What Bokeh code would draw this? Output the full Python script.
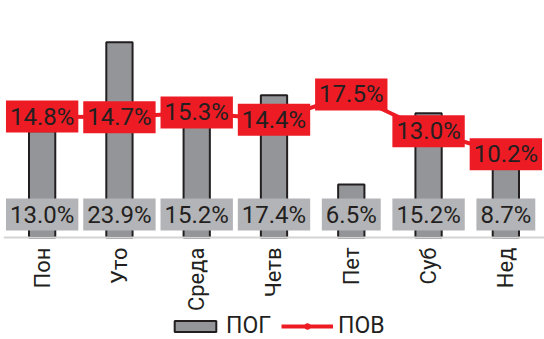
import math
from bokeh.plotting import figure
from bokeh.models import ColumnDataSource, Legend, LegendItem, Range1d
from bokeh.core.properties import value
from bokeh.embed import file_html
from bokeh.resources import INLINE

# Days of the week and the two weekly series (percent)
days = ["Пон", "Уто", "Среда", "Четв", "Пет", "Суб", "Нед"]
pog = [13.0, 23.9, 15.2, 17.4, 6.5, 15.2, 8.7]
pov = [14.8, 14.7, 15.3, 14.4, 17.5, 13.0, 10.2]

FONT = "Roboto"
TEXT = "#231f20"
RED = "#ed1c24"

src = ColumnDataSource(dict(
    day=days,
    pog=pog,
    pov=pov,
    pog_txt=[f"{v:.1f}%" for v in pog],
    pov_txt=[f"{v:.1f}%" for v in pov],
    base=[2.8] * len(days),
))

# the frame fills the canvas; the space under zero holds day names and legend
p = figure(x_range=days, y_range=Range1d(-12.48, 29), width=544, height=339,
           output_backend="svg", toolbar_location=None,
           min_border_left=3, min_border_right=0, min_border_top=0,
           min_border_bottom=0)
p.outline_line_color = None
p.xgrid.visible = False
p.ygrid.visible = False
p.yaxis.visible = False
p.x_range.range_padding = 0

bars = p.vbar(x="day", top="pog", width=0.34, source=src,
              fill_color="#939598", line_color=TEXT, line_width=2)
line = p.line(x="day", y="pov", source=src, line_color=RED, line_width=4)
dots = p.scatter(x="day", y="pov", source=src, size=12,
                 fill_color=RED, line_color=RED)

xa = p.xaxis[0]
xa.fixed_location = 0
xa.axis_line_color = "#d4d4d4"
xa.axis_line_width = 2
xa.major_tick_line_color = None
xa.major_tick_out = 0
xa.major_tick_in = 0
xa.minor_tick_line_color = None
xa.major_label_orientation = math.pi / 2
xa.major_label_standoff = 10
xa.major_label_text_font = FONT
xa.major_label_text_font_size = "22px"
xa.major_label_text_color = TEXT

# value boxes: grey for ПОГ near the base, red for ПОВ on the line
p.text(x="day", y="base", text="pog_txt", source=src,
       text_align="center", text_baseline="middle",
       text_font=value(FONT), text_font_size="24px", text_color=TEXT,
       background_fill_color="#b3b4b7", padding=[4, 2])
p.text(x="day", y="pov", text="pov_txt", source=src,
       text_align="center", text_baseline="middle",
       text_font=value(FONT), text_font_size="24px", text_color=TEXT,
       background_fill_color=RED, padding=[4, 2])

legend = Legend(items=[LegendItem(label="ПОГ", renderers=[bars]),
                       LegendItem(label="ПОВ", renderers=[line, dots])],
                orientation="horizontal", location=(166, 0),
                label_text_font=FONT, label_text_font_size="23px",
                label_text_color=TEXT, glyph_width=52, glyph_height=14,
                label_height=20, label_standoff=5, spacing=10,
                padding=0, margin=0,
                border_line_color=None, background_fill_alpha=0)
p.add_layout(legend)

open("out.html", "w").write(file_html(p, INLINE))
